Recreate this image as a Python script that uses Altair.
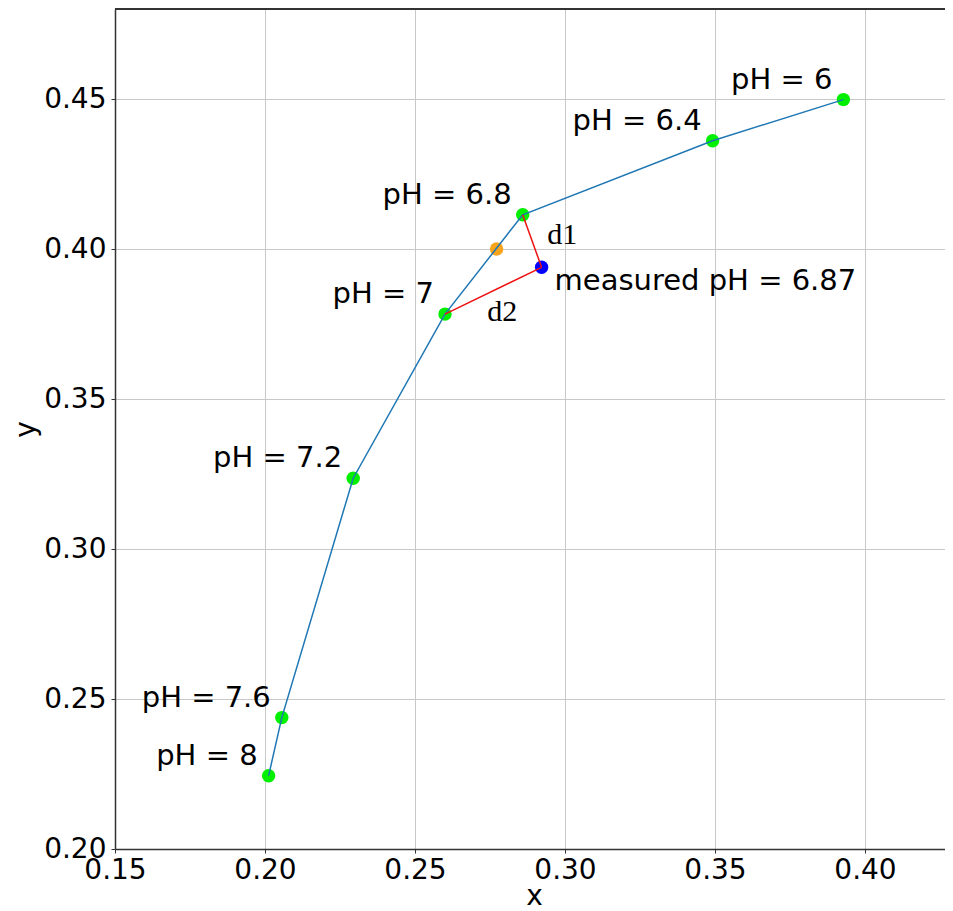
import altair as alt
import pandas as pd

# ---- data ----
ph_labels = ["pH = 6", "pH = 6.4", "pH = 6.8", "pH = 7", "pH = 7.2", "pH = 7.6", "pH = 8"]
x_vals = [0.3928, 0.3492, 0.2859, 0.2600, 0.2294, 0.2056, 0.2012]
y_vals = [0.4498, 0.4361, 0.4114, 0.3783, 0.3236, 0.2438, 0.2244]

interp_x = [0.2772]
interp_y = [0.4000]

measured_x = [0.2922]
measured_y = [0.3939]
measured_label = ["measured pH = 6.87"]

# distance segments: from calibration point index to measured point
seg_names = ["d1", "d2"]
seg_from_idx = [2, 3]

x_ticks = [0.15, 0.20, 0.25, 0.30, 0.35, 0.40]
y_ticks = [0.20, 0.25, 0.30, 0.35, 0.40, 0.45]

X_DOMAIN = [0.15, 0.15 + 830 / 3000]
Y_DOMAIN = [0.20, 0.48]

W, H = 830, 840
FONT = "DejaVu Sans"

calib = pd.DataFrame({"x": x_vals, "y": y_vals, "label": ph_labels, "order": range(len(x_vals))})
interp = pd.DataFrame({"x": interp_x, "y": interp_y})
meas = pd.DataFrame({"x": measured_x, "y": measured_y, "label": measured_label})
segs = pd.DataFrame({
    "name": seg_names,
    "x": [x_vals[i] for i in seg_from_idx],
    "y": [y_vals[i] for i in seg_from_idx],
    "x2": [measured_x[0]] * len(seg_names),
    "y2": [measured_y[0]] * len(seg_names),
})
segs["mx"] = (segs["x"] + segs["x2"]) / 2
segs["my"] = (segs["y"] + segs["y2"]) / 2

xs = alt.Scale(domain=X_DOMAIN, nice=False, zero=False)
ys = alt.Scale(domain=Y_DOMAIN, nice=False, zero=False)

x_axis = alt.Axis(values=x_ticks, format=".2f", title="x", grid=True,
                  labelFontSize=28, labelFont=FONT, titleFont=FONT, titleFontSize=28,
                  titleFontWeight="normal", tickSize=4, labelPadding=3,
                  labelFlush=False, labelOverlap=False,
                  titleX=419, titleY=55, titleBaseline="alphabetic",
                  labelColor="black", titleColor="black",
                  domainColor="#333333", domainWidth=1.5, tickColor="#333333")
y_axis = alt.Axis(values=y_ticks, format=".2f", title="y", grid=True,
                  labelFontSize=28, labelFont=FONT, titleFont=FONT, titleFontSize=28,
                  titleFontWeight="normal", tickSize=4, labelPadding=5, titlePadding=3,
                  labelFlush=False, labelOverlap=False,
                  labelColor="black", titleColor="black",
                  domainColor="#333333", domainWidth=1.5, tickColor="#333333")

base_x = alt.X("x:Q", scale=xs, axis=x_axis)
base_y = alt.Y("y:Q", scale=ys, axis=y_axis)

green_pts = alt.Chart(calib).mark_circle(size=180, color="#00f000", opacity=1).encode(
    x=base_x, y=base_y)

orange_pt = alt.Chart(interp).mark_circle(size=180, color="#f7a31c", opacity=1).encode(
    x=alt.X("x:Q", scale=xs), y=alt.Y("y:Q", scale=ys))

blue_pt = alt.Chart(meas).mark_circle(size=180, color="#0000ff", opacity=1).encode(
    x=alt.X("x:Q", scale=xs), y=alt.Y("y:Q", scale=ys))

curve = alt.Chart(calib).mark_line(color="#1f77b4", strokeWidth=1.5).encode(
    x=alt.X("x:Q", scale=xs), y=alt.Y("y:Q", scale=ys), order="order:Q")

red = alt.Chart(segs).mark_rule(color="#ee1111", strokeWidth=1.5).encode(
    x=alt.X("x:Q", scale=xs), y=alt.Y("y:Q", scale=ys), x2="x2:Q", y2="y2:Q")

ph_text = alt.Chart(calib).mark_text(align="right", baseline="alphabetic", dx=-11, dy=-11,
                                     font=FONT, fontSize=29, color="black").encode(
    x=alt.X("x:Q", scale=xs), y=alt.Y("y:Q", scale=ys), text="label:N")

meas_text = alt.Chart(meas).mark_text(align="left", baseline="alphabetic", dx=13, dy=23,
                                      font=FONT, fontSize=29, color="black").encode(
    x=alt.X("x:Q", scale=xs), y=alt.Y("y:Q", scale=ys), text="label:N")

d1_text = alt.Chart(segs[segs["name"] == "d1"]).mark_text(
    align="left", baseline="alphabetic", dx=15, dy=3,
    font="Liberation Serif", fontSize=30, color="black").encode(
    x=alt.X("mx:Q", scale=xs), y=alt.Y("my:Q", scale=ys), text="name:N")

d2_text = alt.Chart(segs[segs["name"] == "d2"]).mark_text(
    align="left", baseline="alphabetic", dx=-6, dy=30,
    font="Liberation Serif", fontSize=30, color="black").encode(
    x=alt.X("mx:Q", scale=xs), y=alt.Y("my:Q", scale=ys), text="name:N")

top_frame = alt.Chart(calib).mark_rule(color="#333333", strokeWidth=1.5).encode(
    x=alt.value(0), x2=alt.value(W), y=alt.value(0))

chart = alt.layer(
    green_pts, orange_pt, blue_pt, curve, red, ph_text, meas_text, d1_text, d2_text, top_frame
).properties(
    width=W, height=H,
    autosize=alt.AutoSizeParams(type="none"),
    padding={"left": 107, "top": 1, "right": 0, "bottom": 62},
    background="white",
).configure_view(stroke=None).configure_axis(
    gridColor="#c8c8c8", gridWidth=1
)

chart.save("out.html", embed_options={"renderer": "svg", "actions": False})
